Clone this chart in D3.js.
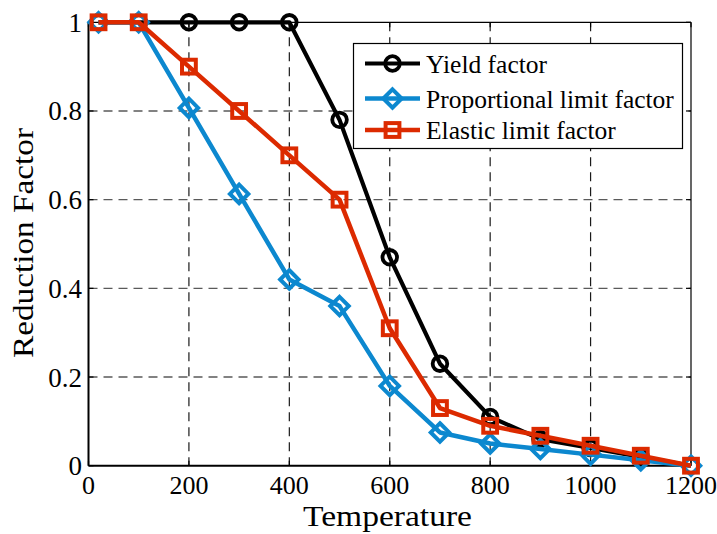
<!DOCTYPE html>
<html>
<head>
<meta charset="utf-8">
<script src="https://cdn.jsdelivr.net/npm/d3@7"></script>
<style>
  html, body { margin: 0; padding: 0; background: #fff; }
  svg { display: block; font-family: "Liberation Serif", "Times New Roman", serif; }
</style>
</head>
<body>
<svg id="chart" width="717" height="534"></svg>
<script>
// Temperature-dependent reduction factors
const temperatures = [20, 100, 200, 300, 400, 500, 600, 700, 800, 900, 1000, 1100, 1200];
const yieldFactor = [1, 1, 1, 1, 1, 0.78, 0.47, 0.23, 0.11, 0.06, 0.04, 0.02, 0];
const proportionalFactor = [1, 1, 0.807, 0.613, 0.42, 0.36, 0.18, 0.075, 0.05, 0.0375, 0.025, 0.0125, 0];
const elasticFactor = [1, 1, 0.9, 0.8, 0.7, 0.6, 0.31, 0.13, 0.09, 0.0675, 0.045, 0.0225, 0];

const seriesNames = ["Yield factor", "Proportional limit factor", "Elastic limit factor"];
const xTicks = [0, 200, 400, 600, 800, 1000, 1200];
const yTicks = [0, 0.2, 0.4, 0.6, 0.8, 1];
const yTickLabels = ["0", "0.2", "0.4", "0.6", "0.8", "1"];

const svg = d3.select("#chart");
const plot = { left: 88.5, right: 691, top: 22.3, bottom: 465.7 };

const x = d3.scaleLinear().domain([0, 1200]).range([plot.left, plot.right]);
const y = d3.scaleLinear().domain([0, 1]).range([plot.bottom, plot.top]);

// background of plot area
svg.append("rect")
  .attr("x", plot.left).attr("y", plot.top)
  .attr("width", plot.right - plot.left).attr("height", plot.bottom - plot.top)
  .attr("fill", "#fff");

// dashed grid
const grid = svg.append("g").attr("fill", "none");
grid.selectAll("line.vx").data(xTicks.filter(t => t > 0 && t < 1200)).join("line")
  .attr("x1", d => x(d)).attr("x2", d => x(d))
  .attr("y1", plot.top).attr("y2", plot.bottom)
  .attr("stroke", "#1a1a1a").attr("stroke-width", 1.2)
  .attr("stroke-dasharray", "9,6");
grid.selectAll("line.hy").data(yTicks.filter(t => t > 0 && t < 1)).join("line")
  .attr("x1", plot.left).attr("x2", plot.right)
  .attr("y1", d => y(d)).attr("y2", d => y(d))
  .attr("stroke", "#5a5a5a").attr("stroke-width", 1.4)
  .attr("stroke-dasharray", "9,6");

// axes box with inward ticks
const axes = svg.append("g").attr("stroke", "#000").attr("fill", "none");
axes.append("line").attr("x1", plot.left).attr("x2", plot.right).attr("y1", plot.top).attr("y2", plot.top).attr("stroke-width", 1.2);
axes.append("line").attr("x1", plot.right).attr("x2", plot.right).attr("y1", plot.top).attr("y2", plot.bottom).attr("stroke-width", 1.2);
axes.append("line").attr("x1", plot.left).attr("x2", plot.right).attr("y1", plot.bottom).attr("y2", plot.bottom).attr("stroke-width", 2);
axes.append("line").attr("x1", plot.left).attr("x2", plot.left).attr("y1", plot.top).attr("y2", plot.bottom).attr("stroke-width", 2);
const tickLen = 5;
xTicks.forEach(t => {
  axes.append("line").attr("x1", x(t)).attr("x2", x(t)).attr("y1", plot.bottom).attr("y2", plot.bottom - tickLen).attr("stroke-width", 1.2);
  axes.append("line").attr("x1", x(t)).attr("x2", x(t)).attr("y1", plot.top).attr("y2", plot.top + tickLen).attr("stroke-width", 1.2);
});
yTicks.forEach(t => {
  axes.append("line").attr("x1", plot.left).attr("x2", plot.left + tickLen).attr("y1", y(t)).attr("y2", y(t)).attr("stroke-width", 1.2);
  axes.append("line").attr("x1", plot.right).attr("x2", plot.right - tickLen).attr("y1", y(t)).attr("y2", y(t)).attr("stroke-width", 1.2);
});

// tick labels
svg.append("g").selectAll("text").data(xTicks).join("text")
  .attr("x", d => x(d)).attr("y", 494)
  .attr("text-anchor", "middle")
  .attr("font-size", 26).attr("fill", "#000")
  .text(d => d);
svg.append("g").selectAll("text").data(yTicks).join("text")
  .attr("x", 82).attr("y", d => y(d) + 9.5)
  .attr("text-anchor", "end")
  .attr("font-size", 27).attr("fill", "#000")
  .text((d, i) => yTickLabels[i]);

// axis titles
svg.append("text")
  .attr("x", 387.5).attr("y", 526)
  .attr("text-anchor", "middle")
  .attr("font-size", 29)
  .attr("textLength", 169).attr("lengthAdjust", "spacingAndGlyphs")
  .text("Temperature");
svg.append("text")
  .attr("transform", "translate(33,243) rotate(-90)")
  .attr("text-anchor", "middle")
  .attr("font-size", 30)
  .attr("textLength", 230).attr("lengthAdjust", "spacingAndGlyphs")
  .text("Reduction Factor");

// series
const series = [
  { name: seriesNames[0], values: yieldFactor, color: "#000000", marker: "circle", width: 4.2 },
  { name: seriesNames[1], values: proportionalFactor, color: "#0c88cf", marker: "diamond", width: 4.5 },
  { name: seriesNames[2], values: elasticFactor, color: "#dc2a00", marker: "square", width: 4.5 }
];

function drawMarker(g, type, cx, cy, color) {
  if (type === "circle") {
    g.append("circle").attr("cx", cx).attr("cy", cy).attr("r", 7.3)
      .attr("fill", "none").attr("stroke", color).attr("stroke-width", 3.8);
  } else if (type === "square") {
    const s = 13.8;
    g.append("rect").attr("x", cx - s / 2).attr("y", cy - s / 2).attr("width", s).attr("height", s)
      .attr("fill", "none").attr("stroke", color).attr("stroke-width", 4);
  } else {
    const r = 9.2;
    g.append("path")
      .attr("d", `M${cx},${cy - r}L${cx + r},${cy}L${cx},${cy + r}L${cx - r},${cy}Z`)
      .attr("fill", "none").attr("stroke", color).attr("stroke-width", 4)
      .attr("stroke-linejoin", "miter");
  }
}

const line = d3.line().x(d => x(d[0])).y(d => y(d[1]));
series.forEach(s => {
  const g = svg.append("g");
  const pts = temperatures.map((t, i) => [t, s.values[i]]);
  g.append("path").datum(pts).attr("d", line)
    .attr("fill", "none").attr("stroke", s.color).attr("stroke-width", s.width)
    .attr("stroke-linejoin", "round");
  pts.forEach(p => drawMarker(g, s.marker, x(p[0]), y(p[1]), s.color));
});

// legend
const legend = svg.append("g");
legend.append("rect")
  .attr("x", 353.5).attr("y", 43.5).attr("width", 329).attr("height", 105)
  .attr("fill", "#fff").attr("stroke", "#000").attr("stroke-width", 1.2);
const rowY = [63.5, 98.5, 130];
series.forEach((s, i) => {
  legend.append("line")
    .attr("x1", 365).attr("x2", 420).attr("y1", rowY[i]).attr("y2", rowY[i])
    .attr("stroke", s.color).attr("stroke-width", s.width);
  drawMarker(legend, s.marker, 392.5, rowY[i], s.color);
  legend.append("text")
    .attr("x", 426).attr("y", rowY[i] + 9)
    .attr("font-size", 25.5).attr("fill", "#000")
    .text(s.name);
});
</script>
</body>
</html>
